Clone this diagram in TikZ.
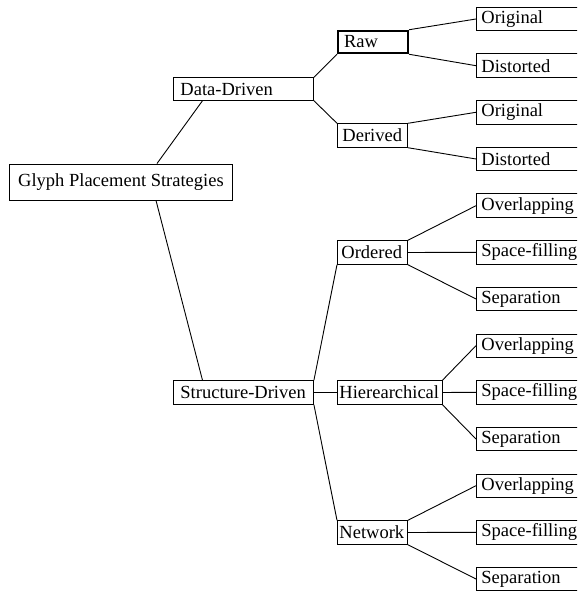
\documentclass[tikz,border=0pt]{standalone}
\usepackage{fontspec}
\setmainfont{Liberation Serif}
\begin{document}
\begin{tikzpicture}[x=1pt,y=-1pt,
  box/.style={draw, rectangle, anchor=west, align=left, inner ysep=0pt,
    minimum height=23.5pt, line width=0.9pt, font=\fontsize{18.5}{22}\selectfont},
  midbox/.style={box, inner xsep=4pt, text width=62pt},
  leafbox/.style={box, inner xsep=5pt, text width=150pt},
  edge/.style={draw, line width=0.9pt}]
\clip (0,0) rectangle (577,593);
% root
\node[box, align=center, inner xsep=6pt, minimum width=223pt, minimum height=36pt] (glyph) at (9,182) {Glyph Placement Strategies};
% level 1
\node[box, inner xsep=7pt, text width=126pt, minimum height=22.5pt] (dd) at (173,89) {Data-Driven};
\node[box, inner xsep=7pt, text width=126pt] (sd) at (173,392.5) {Structure-Driven};
% level 2
\node[midbox, inner xsep=6pt, text width=58pt, minimum height=22.5pt, line width=2pt] (raw) at (337,42) {Raw};
\node[midbox, inner xsep=5pt, text width=60pt] (derived) at (337,135.5) {Derived};
\node[midbox] (ordered) at (337,252.5) {Ordered};
\node[midbox, inner xsep=2pt, text width=100.5pt] (hier) at (337,392.5) {Hierearchical};
\node[midbox, inner xsep=2pt, text width=66pt] (network) at (337,532.5) {Network};
% leaves
\node[leafbox] (o1) at (476,19) {Original};
\node[leafbox] (d1) at (476,65.7) {Distorted};
\node[leafbox] (o2) at (476,112.3) {Original};
\node[leafbox] (d2) at (476,159) {Distorted};
\node[leafbox] (ov1) at (476,205.7) {Overlapping};
\node[leafbox] (sf1) at (476,252.3) {Space-filling};
\node[leafbox] (sp1) at (476,299) {Separation};
\node[leafbox] (ov2) at (476,345.7) {Overlapping};
\node[leafbox] (sf2) at (476,392.3) {Space-filling};
\node[leafbox] (sp2) at (476,439) {Separation};
\node[leafbox] (ov3) at (476,485.7) {Overlapping};
\node[leafbox] (sf3) at (476,532.3) {Space-filling};
\node[leafbox] (sp3) at (476,579) {Separation};
% edges
\draw[edge] ([xshift=148pt]glyph.north west) -- ([xshift=29.5pt]dd.south west);
\draw[edge] ([xshift=147pt]glyph.south west) -- ([xshift=29.5pt]sd.north west);
\draw[edge] (dd.north east) -- (raw.south west);
\draw[edge] (dd.south east) -- (derived.north west);
\draw[edge] (raw.north east) -- (o1.west);
\draw[edge] (raw.south east) -- (d1.west);
\draw[edge] (derived.north east) -- (o2.west);
\draw[edge] (derived.south east) -- (d2.west);
\draw[edge] (sd.north east) -- (ordered.south west);
\draw[edge] (sd.east) -- (hier.west);
\draw[edge] (sd.south east) -- (network.north west);
\draw[edge] (ordered.north east) -- (ov1.west);
\draw[edge] (ordered.east) -- (sf1.west);
\draw[edge] (ordered.south east) -- (sp1.west);
\draw[edge] (hier.north east) -- (ov2.west);
\draw[edge] (hier.east) -- (sf2.west);
\draw[edge] (hier.south east) -- (sp2.west);
\draw[edge] (network.north east) -- (ov3.west);
\draw[edge] (network.east) -- (sf3.west);
\draw[edge] (network.south east) -- (sp3.west);
\end{tikzpicture}
\end{document}
